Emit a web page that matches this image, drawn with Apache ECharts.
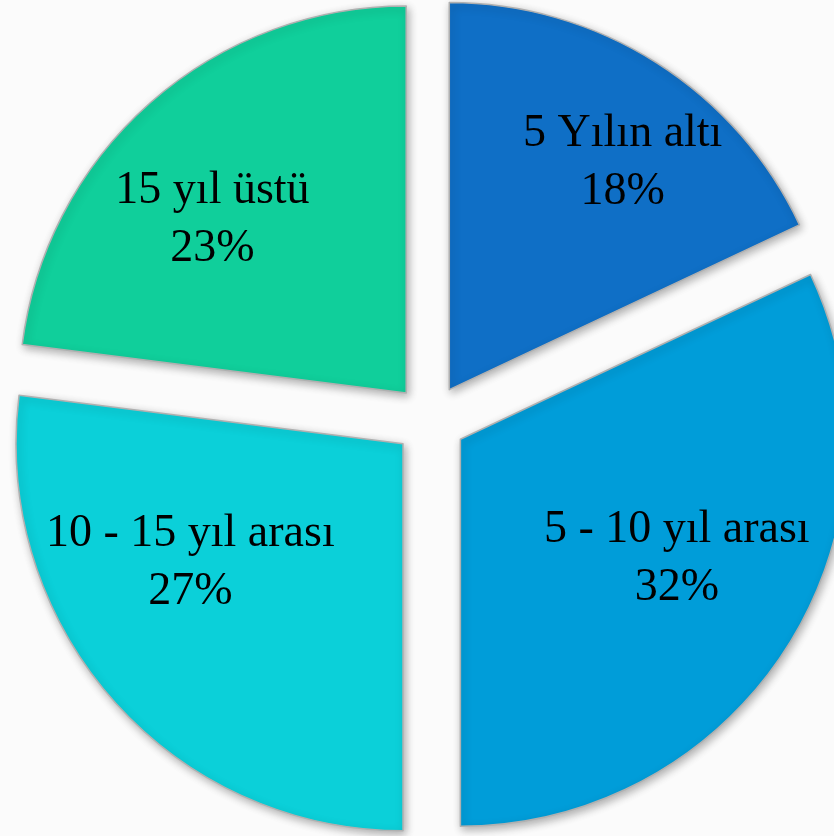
<!DOCTYPE html>
<html>
<head>
<meta charset="utf-8">
<script src="https://cdn.jsdelivr.net/npm/echarts@6/dist/echarts.min.js"></script>
<style>
html,body{margin:0;padding:0;background:#fbfbfb;}
#chart{width:834px;height:836px;}
</style>
</head>
<body>
<div id="chart"></div>
<script>
const categories = ['5 Yılın altı', '5 - 10 yıl arası', '10 - 15 yıl arası', '15 yıl üstü'];
const values = [18, 32, 27, 23];
const colors = ['#0F6FC6', '#009DD9', '#0BD0D9', '#10CF9B'];
// label layout helpers (layout only): invisible overlay radius and start angle per label
const labelRadius = [564, 488, 480, 513];
const labelStart = [85.5, 93.1, 79.4, 96.0];

const CENTER = [430, 420];
const OFFSET = 36;

const series = [{
  type: 'pie',
  center: CENTER,
  radius: [0, 387],
  startAngle: 90,
  clockwise: true,
  selectedMode: 'multiple',
  selectedOffset: OFFSET,
  itemStyle: {
    borderColor: '#b0b0b0',
    borderWidth: 1.5,
    shadowBlur: 8,
    shadowColor: 'rgba(0,0,0,0.3)',
    shadowOffsetX: 2,
    shadowOffsetY: 3
  },
  label: { show: false },
  labelLine: { show: false },
  emphasis: { disabled: true },
  data: categories.map((c, i) => ({
    name: c, value: values[i], selected: true,
    itemStyle: { color: colors[i] }
  }))
}];

categories.forEach((cat, k) => {
  series.push({
    type: 'pie',
    center: CENTER,
    radius: [0, labelRadius[k]],
    startAngle: labelStart[k],
    clockwise: true,
    silent: true,
    z: 5,
    selectedMode: 'multiple',
    selectedOffset: OFFSET,
    itemStyle: { color: 'rgba(0,0,0,0)', borderWidth: 0 },
    labelLine: { show: false },
    emphasis: { disabled: true },
    data: categories.map((c, i) => ({
      name: c, value: values[i], selected: true,
      label: i === k ? {
        show: true,
        position: 'inside',
        formatter: p => p.name + '\n' + p.value + '%',
        fontFamily: '"Liberation Serif", serif',
        fontSize: 46,
        lineHeight: 58,
        color: '#000'
      } : { show: false }
    }))
  });
});

const chart = echarts.init(document.getElementById('chart'));
chart.setOption({ backgroundColor: '#fbfbfb', animation: false, series: series });
</script>
</body>
</html>
